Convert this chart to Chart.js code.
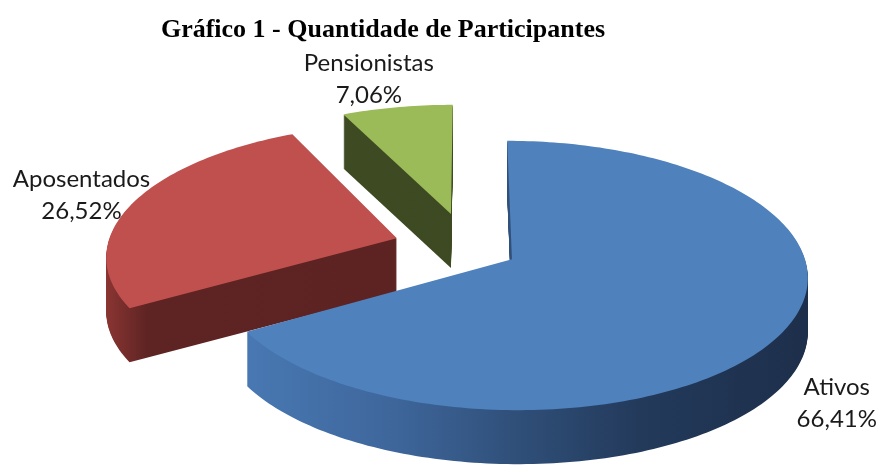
<!DOCTYPE html>
<html>
<head>
<meta charset="utf-8">
<script src="https://cdn.jsdelivr.net/npm/chart.js@4.4.1/dist/chart.umd.min.js"></script>
<style>
  html, body { margin: 0; padding: 0; background: #fff; }
  #wrap { position: relative; width: 877px; height: 475px; }
  #title { position: absolute; left: 0; top: 14px; width: 766px; text-align: center;
           font: bold 26px "Liberation Serif", "Times New Roman", serif; color: #000; }
</style>
</head>
<body>
<div id="wrap">
  <div id="title">Gráfico 1 - Quantidade de Participantes</div>
  <canvas id="chart" width="877" height="475"></canvas>
</div>
<script>
const categories = ["Ativos", "Aposentados", "Pensionistas"];
const shares = [66.41, 26.52, 7.06];
const shareLabels = ["66,41%", "26,52%", "7,06%"];

const topColors = ["#4f81bd", "#c0504d", "#9bbb59"];

// fake 3D pie: the arcs computed by Chart.js are projected onto a tilted
// plane with a little perspective, and the side walls are stacked copies
const pie3d = {
  id: "pie3d",
  setup(a, i, opts) {
    const mid = (a.startAngle + a.endAngle) / 2;
    const ex = Math.cos(mid) * opts.explode[i] / opts.radiusX;
    const ey = Math.sin(mid) * opts.explode[i] / opts.radiusX;
    const proj = (u, v, h) => {
      const w = 1 / (1 - opts.perspective * v);
      return [a.x + opts.radiusX * u * w, a.y + opts.radiusY * v * w + h];
    };
    return { mid, ex, ey, proj };
  },
  slicePath(ctx, a, g, h) {
    const n = Math.max(2, Math.ceil((a.endAngle - a.startAngle) / 0.02));
    ctx.beginPath();
    let p = g.proj(g.ex, g.ey, h);
    ctx.moveTo(p[0], p[1]);
    for (let j = 0; j <= n; j++) {
      const t = a.startAngle + (a.endAngle - a.startAngle) * j / n;
      p = g.proj(g.ex + Math.cos(t), g.ey + Math.sin(t), h);
      ctx.lineTo(p[0], p[1]);
    }
    ctx.closePath();
  },
  beforeDatasetsDraw(chart, args, opts) {
    const ctx = chart.ctx;
    const arcs = chart.getDatasetMeta(0).data;
    const midSin = a => Math.sin((a.startAngle + a.endAngle) / 2);
    const order = arcs.map((a, i) => i).sort((p, q) => midSin(arcs[p]) - midSin(arcs[q]));

    order.forEach(i => {
      const a = arcs[i];
      const g = this.setup(a, i, opts);
      const left = g.proj(g.ex - 1, 0, 0)[0], right = g.proj(g.ex + 1, 0, 0)[0];
      const grad = ctx.createLinearGradient(left, 0, right, 0);
      opts.sideStops[i].forEach(s => grad.addColorStop(s[0], s[1]));
      ctx.save();
      ctx.fillStyle = grad;
      for (let d = opts.depth; d >= 1; d--) {
        this.slicePath(ctx, a, g, d);
        ctx.fill();
      }
      ctx.fillStyle = a.options.backgroundColor;
      this.slicePath(ctx, a, g, 0);
      ctx.fill();
      ctx.restore();
    });
    return false;
  },
  afterDraw(chart, args, opts) {
    const ctx = chart.ctx;
    const arcs = chart.getDatasetMeta(0).data;
    ctx.save();
    ctx.font = opts.font;
    ctx.fillStyle = opts.color;
    ctx.textAlign = "center";
    ctx.textBaseline = "middle";
    arcs.forEach((a, i) => {
      const g = this.setup(a, i, opts);
      const c = Math.cos(g.mid), s = Math.sin(g.mid);
      const lines = [categories[i], shareLabels[i]];
      const hw = Math.max(...lines.map(t => ctx.measureText(t).width)) / 2;
      const hh = opts.lineHeight;
      const e = g.proj(g.ex + c, g.ey + s, Math.max(0, s) * opts.depth);
      const x = e[0] + c * hw + opts.labelNudge[i][0];
      const y = e[1] + s * hh + opts.labelNudge[i][1];
      ctx.fillText(lines[0], x, y - hh / 2);
      ctx.fillText(lines[1], x, y + hh / 2);
    });
    ctx.restore();
  }
};

new Chart(document.getElementById("chart"), {
  type: "pie",
  data: {
    labels: categories,
    datasets: [{
      data: shares,
      backgroundColor: topColors,
      borderWidth: 0
    }]
  },
  options: {
    responsive: false,
    animation: false,
    events: [],
    layout: { padding: { left: 318, right: 259, top: 98, bottom: 77 } },
    plugins: {
      legend: { display: false },
      title: { display: false },
      tooltip: { enabled: false },
      pie3d: {
        radiusX: 290,
        radiusY: 130,
        perspective: 0.12,
        depth: 54,
        explode: [50, 75, 80],
        sideStops: [
          [[0, "#4a7bb6"], [0.3, "#3e669b"], [0.5, "#30507a"], [0.72, "#233a5b"], [1, "#1d2f4b"]],
          [[0, "#8a3532"], [0.07, "#5e2423"], [1, "#5b2221"]],
          [[0, "#3f4b23"], [1, "#3c4821"]]
        ],
        font: '24px Lato, "Open Sans", sans-serif',
        color: "#1a1a1a",
        lineHeight: 32,
        labelNudge: [[16, 32], [14, 2], [-14, 3]]
      }
    }
  },
  plugins: [pie3d]
});
</script>
</body>
</html>
